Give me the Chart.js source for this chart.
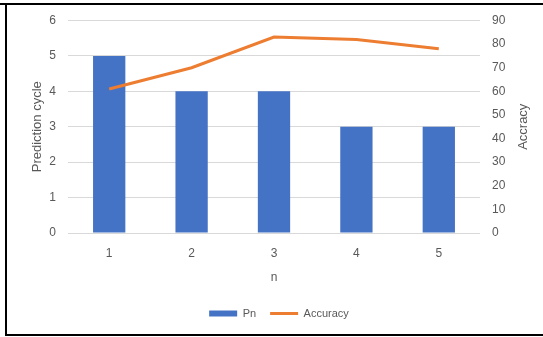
<!DOCTYPE html>
<html>
<head>
<meta charset="utf-8">
<script src="https://cdn.jsdelivr.net/npm/chart.js@4.4.0/dist/chart.umd.min.js"></script>
<style>
  html, body { margin: 0; padding: 0; background: #fff; }
</style>
</head>
<body>
<canvas id="myChart" width="543" height="337"></canvas>
<script>
'use strict'

// data
const categories = ['1', '2', '3', '4', '5'];
const pnValues = [5, 4, 4, 3, 3];
const accuracyValues = [61, 70, 83, 82, 78];
const leftTicks = [0, 1, 2, 3, 4, 5, 6];
const rightTicks = [0, 10, 20, 30, 40, 50, 60, 70, 80, 90];

const textColor = '#595959';
const gridColor = '#d9d9d9';
const fontFamily = "'Liberation Sans', Arial, sans-serif";

// black frame and the right axis title (reads bottom to top like the left one)
const framePlugin = {
  id: 'frame',
  afterDraw(chart) {
    const ctx = chart.ctx;
    const area = chart.chartArea;
    ctx.save();
    ctx.fillStyle = '#000';
    ctx.fillRect(0, 3, 543, 2);
    ctx.fillRect(5, 3, 2, 333);
    ctx.fillRect(5, 334, 538, 2);

    ctx.translate(523, (area.top + area.bottom) / 2);
    ctx.rotate(-Math.PI / 2);
    ctx.font = '13px ' + fontFamily;
    ctx.fillStyle = textColor;
    ctx.textAlign = 'center';
    ctx.textBaseline = 'middle';
    ctx.fillText('Accracy', 0, 0);
    ctx.restore();
  }
};

const data = {
  labels: categories,
  datasets: [
    {
      type: 'bar',
      label: 'Pn',
      data: pnValues,
      backgroundColor: '#4472C4',
      borderWidth: 0,
      yAxisID: 'y',
      order: 1,
      categoryPercentage: 0.8,
      barPercentage: 0.49
    },
    {
      type: 'line',
      label: 'Accuracy',
      data: accuracyValues,
      borderColor: '#ED7D31',
      backgroundColor: '#ED7D31',
      borderWidth: 3,
      pointRadius: 0,
      tension: 0,
      yAxisID: 'yRight',
      order: 0
    }
  ]
};

const config = {
  type: 'bar',
  data: data,
  plugins: [framePlugin],
  options: {
    responsive: false,
    animation: false,
    devicePixelRatio: 1,
    layout: { padding: { top: 20.5, left: 15, right: 0, bottom: 8 } },
    plugins: {
      tooltip: { enabled: false },
      legend: {
        position: 'bottom',
        labels: {
          usePointStyle: true,
          pointStyleWidth: 28,
          boxHeight: 6,
          padding: 14,
          color: textColor,
          font: { family: fontFamily, size: 11 },
          sort: (a, b) => a.datasetIndex - b.datasetIndex,
          generateLabels(chart) {
            const items = Chart.defaults.plugins.legend.labels.generateLabels(chart);
            items.forEach(it => {
              it.pointStyle = chart.data.datasets[it.datasetIndex].type === 'line' ? 'line' : 'rect';
            });
            return items;
          }
        }
      }
    },
    scales: {
      x: {
        grid: { display: false },
        border: { display: false },
        ticks: { color: textColor, padding: 5, font: { family: fontFamily, size: 12 } },
        title: {
          display: true,
          text: 'n',
          color: textColor,
          font: { family: fontFamily, size: 12 },
          padding: { top: 0, bottom: 9.5 }
        },
        afterFit(scale) { scale.height = 61; }
      },
      y: {
        position: 'left',
        min: 0,
        max: 6,
        grid: { color: gridColor, drawTicks: false },
        border: { display: false },
        ticks: { color: textColor, padding: 12, font: { family: fontFamily, size: 12 } },
        afterBuildTicks(scale) { scale.ticks = leftTicks.map(v => ({ value: v })); },
        title: {
          display: true,
          text: 'Prediction cycle',
          color: textColor,
          font: { family: fontFamily, size: 13 },
          padding: { top: 15, bottom: 0 }
        },
        afterFit(scale) { scale.width = 53; }
      },
      yRight: {
        position: 'right',
        min: 0,
        max: 90,
        grid: { display: false, drawTicks: false },
        border: { display: false },
        ticks: { color: textColor, padding: 12, font: { family: fontFamily, size: 12 } },
        afterBuildTicks(scale) { scale.ticks = rightTicks.map(v => ({ value: v })); },
        afterFit(scale) { scale.width = 63; }
      }
    }
  }
};

const renderChart = new Chart(document.getElementById('myChart'), config);
</script>
</body>
</html>
